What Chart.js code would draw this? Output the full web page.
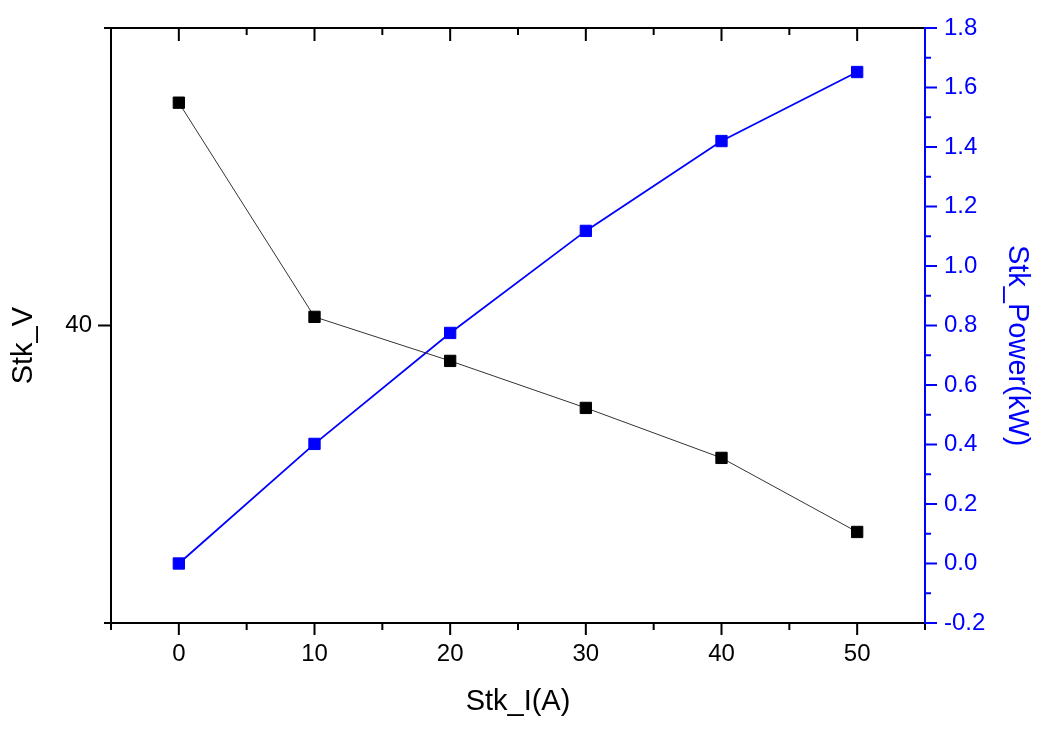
<!DOCTYPE html>
<html>
<head>
<meta charset="utf-8">
<script src="https://cdn.jsdelivr.net/npm/chart.js@4.4.1/dist/chart.umd.min.js"></script>
<style>
  html, body { margin: 0; padding: 0; background: #ffffff; }
  #wrap { width: 1046px; height: 734px; }
</style>
</head>
<body>
<div id="wrap"><canvas id="c" width="1046" height="734"></canvas></div>
<script>
// ---- data ----
const currentA = [0, 10, 20, 30, 40, 50];
const stkV = [47.49, 40.29, 38.81, 37.23, 35.55, 33.06];
const stkPowerKW = [0.0, 0.402, 0.775, 1.118, 1.420, 1.652];

// ---- tick labels ----
const xTickLabels = [0, 10, 20, 30, 40, 50];
const xMinorTicks = [-5, 5, 15, 25, 35, 45, 55];
const leftTickLabels = [40];
const leftTickMarks = [30, 40, 50];
const rightTickLabels = [-0.2, 0.0, 0.2, 0.4, 0.6, 0.8, 1.0, 1.2, 1.4, 1.6, 1.8];
const rightMinorTicks = [-0.1, 0.1, 0.3, 0.5, 0.7, 0.9, 1.1, 1.3, 1.5, 1.7];

const FONT = "'Liberation Sans', Arial, sans-serif";
const BLUE = '#0000ff';

const framePlugin = {
  id: 'frame',
  afterDraw(chart) {
    const { ctx, chartArea: a, scales } = chart;
    const x = scales.x, y = scales.y, y2 = scales.y2;
    ctx.save();
    ctx.lineWidth = 2;
    ctx.lineCap = 'butt';
    ctx.strokeStyle = '#000';
    ctx.beginPath();
    ctx.moveTo(a.left, a.bottom + 1); ctx.lineTo(a.left, a.top);
    ctx.moveTo(a.left - 7, a.top); ctx.lineTo(a.right, a.top);
    ctx.moveTo(a.left - 7, a.bottom); ctx.lineTo(a.right, a.bottom);
    xTickLabels.forEach(v => {
      const p = x.getPixelForValue(v);
      ctx.moveTo(p, a.bottom); ctx.lineTo(p, a.bottom + 12);
      ctx.moveTo(p, a.top); ctx.lineTo(p, a.top + 13);
    });
    xMinorTicks.forEach(v => {
      const p = x.getPixelForValue(v);
      ctx.moveTo(p, a.bottom); ctx.lineTo(p, a.bottom + 7);
      ctx.moveTo(p, a.top); ctx.lineTo(p, a.top + 7);
    });
    leftTickMarks.forEach(v => {
      const p = y.getPixelForValue(v);
      const len = (v === 40) ? 13 : 7;
      ctx.moveTo(a.left, p); ctx.lineTo(a.left - len, p);
    });
    ctx.stroke();
    ctx.strokeStyle = BLUE;
    ctx.beginPath();
    ctx.moveTo(a.right, a.top - 1); ctx.lineTo(a.right, a.bottom + 1);
    rightTickLabels.forEach(v => {
      const p = y2.getPixelForValue(v);
      ctx.moveTo(a.right, p); ctx.lineTo(a.right + 12, p);
    });
    rightMinorTicks.forEach(v => {
      const p = y2.getPixelForValue(v);
      ctx.moveTo(a.right, p); ctx.lineTo(a.right + 6, p);
    });
    ctx.stroke();
    ctx.restore();
  }
};

const tickFont = { family: FONT, size: 24 };
const titleFont = { family: FONT, size: 29 };

function fixV(width) {
  return s => { s.width = width; s.paddingTop = 0; s.paddingBottom = 0; };
}

new Chart(document.getElementById('c'), {
  type: 'scatter',
  data: {
    datasets: [
      {
        label: 'Stk_V',
        data: currentA.map((v, i) => ({ x: v, y: stkV[i] })),
        yAxisID: 'y',
        showLine: true,
        borderColor: '#333333',
        borderWidth: 1,
        backgroundColor: '#000000',
        pointStyle: 'rect',
        pointRadius: 8,
        pointBorderColor: '#000000',
        pointBorderWidth: 1,
        pointBackgroundColor: '#000000'
      },
      {
        label: 'Stk_Power(kW)',
        data: currentA.map((v, i) => ({ x: v, y: stkPowerKW[i] })),
        yAxisID: 'y2',
        showLine: true,
        borderColor: BLUE,
        borderWidth: 1.8,
        backgroundColor: BLUE,
        pointStyle: 'rect',
        pointRadius: 8,
        pointBorderColor: BLUE,
        pointBorderWidth: 1,
        pointBackgroundColor: BLUE
      }
    ]
  },
  options: {
    responsive: false,
    animation: false,
    devicePixelRatio: 1,
    layout: { padding: { top: 28, left: 0, right: 0, bottom: 0 } },
    plugins: { legend: { display: false }, tooltip: { enabled: false } },
    scales: {
      x: {
        type: 'linear', position: 'bottom', min: -5, max: 55,
        afterBuildTicks: s => { s.ticks = xTickLabels.map(v => ({ value: v })); },
        afterFit: s => { s.height = 111; s.paddingLeft = 0; s.paddingRight = 0; },
        ticks: { font: tickFont, color: '#000', padding: 17, maxRotation: 0, autoSkip: false,
                 callback: v => String(v) },
        grid: { display: false, drawTicks: false },
        border: { display: false },
        title: { display: true, text: 'Stk_I(A)', font: titleFont, color: '#000',
                 padding: { top: 4, bottom: 15 } }
      },
      y: {
        type: 'linear', position: 'left', min: 30, max: 50,
        afterBuildTicks: s => { s.ticks = leftTickLabels.map(v => ({ value: v })); },
        afterFit: fixV(111),
        ticks: { font: tickFont, color: '#000', padding: 19, callback: v => String(v) },
        grid: { display: false, drawTicks: false },
        border: { display: false },
        title: { display: true, text: 'Stk_V     ', font: titleFont, color: '#000',
                 padding: { top: 7, bottom: 4 } }
      },
      y2: {
        type: 'linear', position: 'right', min: -0.2, max: 1.8,
        afterBuildTicks: s => { s.ticks = rightTickLabels.map(v => ({ value: v })); },
        afterFit: fixV(121),
        ticks: { font: tickFont, color: BLUE, padding: 19, callback: v => Number(v).toFixed(1) },
        grid: { display: false, drawTicks: false },
        border: { display: false },
        title: { display: true, text: '     Stk_Power(kW)', font: titleFont, color: BLUE,
                 padding: { top: 12, bottom: 4 } }
      }
    }
  },
  plugins: [framePlugin]
});
</script>
</body>
</html>
